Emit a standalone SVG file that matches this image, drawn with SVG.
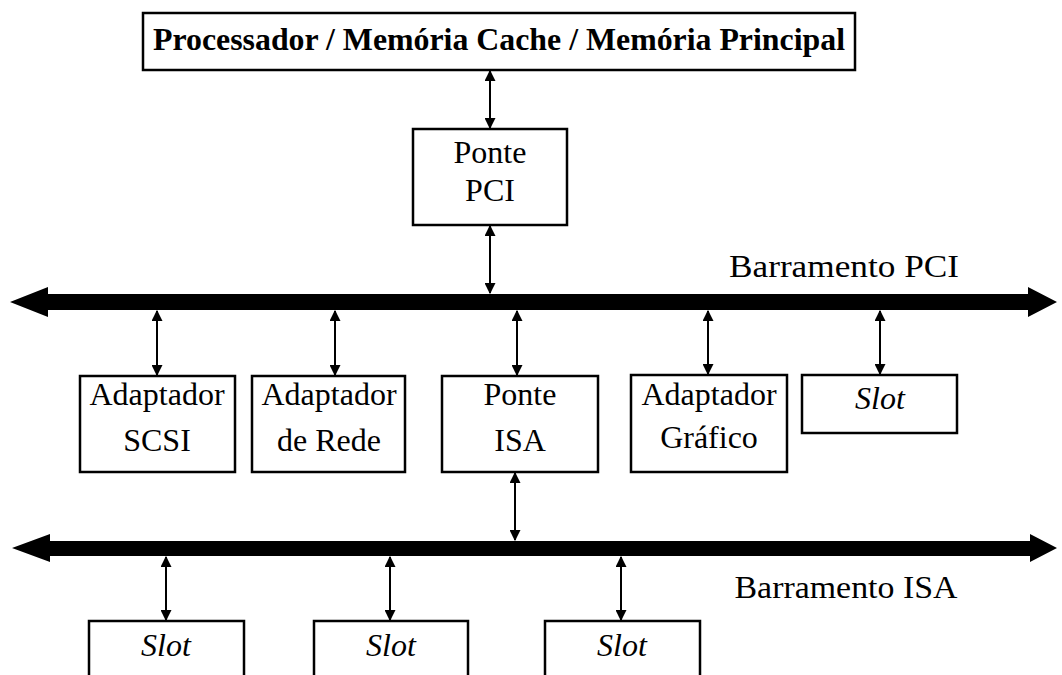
<svg xmlns="http://www.w3.org/2000/svg" width="1062" height="675" viewBox="0 0 1062 675">
<defs>
<style>
.box{fill:#fff;stroke:#000;stroke-width:2.5}
.t{font-family:"Liberation Serif","Times New Roman",serif;font-size:32px;fill:#000;text-anchor:middle}
.b{font-weight:bold;font-size:31px}
.i{font-style:italic}
.c{stroke:#000;stroke-width:2;fill:none;marker-start:url(#ah);marker-end:url(#ah)}
.bus{fill:#000}
</style>
<marker id="ah" viewBox="0 0 10 10" refX="9" refY="5" markerWidth="11" markerHeight="11" markerUnits="userSpaceOnUse" orient="auto-start-reverse">
<path d="M0,0 L10,5 L0,10 Z" fill="#000"/>
</marker>
</defs>
<g id="buses">
<polygon class="bus" points="10,302 48,287 48,294 1028,294 1028,287 1057,302 1028,317 1028,310 48,310 48,317"/>
<polygon class="bus" points="12,548 50,534 50,541 1030,541 1030,534 1057,548 1030,562 1030,556 50,556 50,562"/>
</g>
<g id="connectors">
<line class="c" x1="490" y1="71" x2="490" y2="128"/>
<line class="c" x1="490" y1="226" x2="490" y2="293"/>
<line class="c" x1="157" y1="311" x2="157" y2="375"/>
<line class="c" x1="335" y1="311" x2="335" y2="375"/>
<line class="c" x1="517" y1="311" x2="517" y2="375"/>
<line class="c" x1="708" y1="311" x2="708" y2="374"/>
<line class="c" x1="880" y1="311" x2="880" y2="374"/>
<line class="c" x1="515" y1="473" x2="515" y2="540"/>
<line class="c" x1="166" y1="557" x2="166" y2="620"/>
<line class="c" x1="390" y1="557" x2="390" y2="620"/>
<line class="c" x1="621" y1="557" x2="621" y2="620"/>
</g>
<g id="top">
<rect class="box" x="143" y="13" width="712" height="57" stroke-width="2"/>
<text class="t b" x="499" y="50" textLength="692" lengthAdjust="spacingAndGlyphs">Processador / Memória Cache / Memória Principal</text>
</g>
<g id="ponte-pci">
<rect class="box" x="413" y="129" width="154" height="96"/>
<text class="t" x="490" y="163">Ponte</text>
<text class="t" x="490" y="201">PCI</text>
</g>
<text id="label-pci" class="t" x="844" y="277" textLength="230" lengthAdjust="spacingAndGlyphs">Barramento PCI</text>
<g id="scsi">
<rect class="box" x="80" y="376" width="155" height="96"/>
<text class="t" x="157" y="405">Adaptador</text>
<text class="t" x="157" y="451">SCSI</text>
</g>
<g id="rede">
<rect class="box" x="252" y="376" width="153" height="96"/>
<text class="t" x="329" y="405">Adaptador</text>
<text class="t" x="329" y="451">de Rede</text>
</g>
<g id="ponte-isa">
<rect class="box" x="442" y="376" width="156" height="96"/>
<text class="t" x="520" y="405">Ponte</text>
<text class="t" x="520" y="451">ISA</text>
</g>
<g id="grafico">
<rect class="box" x="631" y="375" width="156" height="97"/>
<text class="t" x="709" y="405">Adaptador</text>
<text class="t" x="709" y="448">Gráfico</text>
</g>
<g id="slot-pci">
<rect class="box" x="802" y="375" width="155" height="58"/>
<text class="t i" x="880" y="409">Slot</text>
</g>
<text id="label-isa" class="t" x="846" y="598" textLength="223" lengthAdjust="spacingAndGlyphs">Barramento ISA</text>
<g id="slot1">
<rect class="box" x="89" y="621" width="155" height="80"/>
<text class="t i" x="166" y="656">Slot</text>
</g>
<g id="slot2">
<rect class="box" x="314" y="621" width="154" height="80"/>
<text class="t i" x="391" y="656">Slot</text>
</g>
<g id="slot3">
<rect class="box" x="545" y="621" width="155" height="80"/>
<text class="t i" x="622" y="656">Slot</text>
</g>
</svg>
